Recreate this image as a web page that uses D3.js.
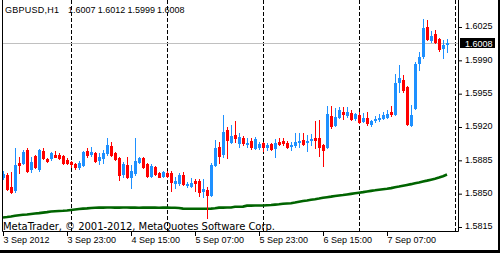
<html lang='en'>

<head>
    <title>GBPUSD,H1</title>
    <script src="https://d3js.org/d3.v7.min.js" charset="utf-8"></script>
    <style>
        body {
            margin: 0;
            background: #fff;
        }

        text {
            font-family: 'Liberation Sans', Arial, sans-serif;
            font-size: 9px;
        }
    </style>
</head>

<body>
    <script>
        // H1 bars from 3 Sep 2012 07:00 (index 0) to 7 Sep 22:00 (index 111)
        var open = [1.5868, 1.5870, 1.5857, 1.5854, 1.5882, 1.5882, 1.5896, 1.5876, 1.5890, 1.5876,
            1.5895, 1.5886, 1.5887, 1.5891, 1.5891, 1.5890, 1.5885, 1.5883, 1.5881, 1.5878,
            1.5880, 1.5895, 1.5892, 1.5893, 1.5885, 1.5887, 1.5893, 1.5900, 1.5893, 1.5887,
            1.5871, 1.5880, 1.5868, 1.5872, 1.5883, 1.5887, 1.5881, 1.5869, 1.5878, 1.5872,
            1.5869, 1.5872, 1.5872, 1.5861, 1.5861, 1.5870, 1.5859, 1.5858, 1.5863, 1.5863,
            1.5853, 1.5854, 1.5849, 1.5880, 1.5899, 1.5892, 1.5917, 1.5904, 1.5912, 1.5903,
            1.5908, 1.5902, 1.5905, 1.5898, 1.5899, 1.5903, 1.5899, 1.5902, 1.5898, 1.5904,
            1.5905, 1.5903, 1.5900, 1.5901, 1.5904, 1.5906, 1.5904, 1.5906, 1.5908, 1.5908,
            1.5901, 1.5899, 1.5932, 1.5922, 1.5931, 1.5936, 1.5933, 1.5935, 1.5929, 1.5933,
            1.5926, 1.5929, 1.5923, 1.5927, 1.5928, 1.5929, 1.5931, 1.5936, 1.5934, 1.5967,
            1.5969, 1.5962, 1.5922, 1.5940, 1.5987, 1.5995, 1.6025, 1.6011, 1.6018, 1.6012,
            1.6003, 1.6007];
        var high = [1.5874, 1.5872, 1.5873, 1.5898, 1.5889, 1.5896, 1.5898, 1.5889, 1.5891, 1.5897,
            1.5898, 1.5887, 1.5894, 1.5895, 1.5893, 1.5891, 1.5887, 1.5884, 1.5882, 1.5884,
            1.5895, 1.5898, 1.5899, 1.5894, 1.5893, 1.5896, 1.5908, 1.5904, 1.5894, 1.5889,
            1.5883, 1.5889, 1.5880, 1.5908, 1.5889, 1.5889, 1.5882, 1.5881, 1.5879, 1.5873,
            1.5874, 1.5874, 1.5874, 1.5868, 1.5872, 1.5873, 1.5862, 1.5866, 1.5865, 1.5865,
            1.5865, 1.5857, 1.5882, 1.5906, 1.5904, 1.5933, 1.5920, 1.5922, 1.5926, 1.5914,
            1.5911, 1.5908, 1.5908, 1.5910, 1.5904, 1.5904, 1.5903, 1.5903, 1.5907, 1.5908,
            1.5908, 1.5905, 1.5904, 1.5914, 1.5914, 1.5914, 1.5912, 1.5913, 1.5926, 1.5927,
            1.5902, 1.5942, 1.5942, 1.5940, 1.5941, 1.5941, 1.5941, 1.5938, 1.5935, 1.5936,
            1.5935, 1.5936, 1.5927, 1.5932, 1.5934, 1.5936, 1.5938, 1.5942, 1.5976, 1.5985,
            1.5975, 1.5963, 1.5943, 1.5988, 1.5999, 1.6033, 1.6032, 1.6021, 1.6022, 1.6013,
            1.6011, 1.6012];
        var low = [1.5865, 1.5854, 1.5851, 1.5852, 1.5872, 1.5881, 1.5873, 1.5873, 1.5877, 1.5874,
            1.5886, 1.5883, 1.5885, 1.5888, 1.5886, 1.5881, 1.5881, 1.5878, 1.5876, 1.5876,
            1.5879, 1.5889, 1.5890, 1.5883, 1.5881, 1.5882, 1.5891, 1.5890, 1.5885, 1.5864,
            1.5868, 1.5866, 1.5856, 1.5870, 1.5882, 1.5877, 1.5868, 1.5868, 1.5870, 1.5867,
            1.5868, 1.5867, 1.5853, 1.5856, 1.5859, 1.5859, 1.5857, 1.5857, 1.5853, 1.5848,
            1.5847, 1.5824, 1.5848, 1.5879, 1.5882, 1.5889, 1.5887, 1.5903, 1.5904, 1.5899,
            1.5901, 1.5899, 1.5897, 1.5897, 1.5897, 1.5895, 1.5896, 1.5896, 1.5889, 1.5901,
            1.5901, 1.5898, 1.5896, 1.5899, 1.5899, 1.5901, 1.5895, 1.5901, 1.5898, 1.5890,
            1.5879, 1.5898, 1.5919, 1.5921, 1.5929, 1.5928, 1.5931, 1.5927, 1.5927, 1.5924,
            1.5925, 1.5922, 1.5921, 1.5925, 1.5926, 1.5928, 1.5929, 1.5932, 1.5933, 1.5957,
            1.5957, 1.5922, 1.5921, 1.5939, 1.5980, 1.5992, 1.6011, 1.6009, 1.6008, 1.6000,
            1.5992, 1.5999];
        var close = [1.5871, 1.5855, 1.5852, 1.5880, 1.5880, 1.5894, 1.5874, 1.5883, 1.5878, 1.5896,
            1.5887, 1.5884, 1.5893, 1.5889, 1.5887, 1.5882, 1.5882, 1.5881, 1.5878, 1.5882,
            1.5894, 1.5891, 1.5894, 1.5884, 1.5889, 1.5893, 1.5901, 1.5891, 1.5886, 1.5870,
            1.5881, 1.5868, 1.5874, 1.5884, 1.5887, 1.5878, 1.5869, 1.5879, 1.5871, 1.5868,
            1.5873, 1.5869, 1.5862, 1.5863, 1.5870, 1.5860, 1.5860, 1.5861, 1.5861, 1.5852,
            1.5855, 1.5849, 1.5880, 1.5898, 1.5890, 1.5915, 1.5906, 1.5911, 1.5908, 1.5910,
            1.5903, 1.5903, 1.5899, 1.5907, 1.5902, 1.5899, 1.5901, 1.5897, 1.5903, 1.5902,
            1.5903, 1.5899, 1.5901, 1.5904, 1.5905, 1.5902, 1.5905, 1.5907, 1.5906, 1.5899,
            1.5896, 1.5934, 1.5921, 1.5931, 1.5938, 1.5934, 1.5936, 1.5928, 1.5934, 1.5925,
            1.5929, 1.5924, 1.5926, 1.5928, 1.5929, 1.5933, 1.5934, 1.5934, 1.5966, 1.5971,
            1.5959, 1.5923, 1.5933, 1.5986, 1.5994, 1.6024, 1.6012, 1.6016, 1.6009, 1.6002,
            1.6006, 1.6008];
        // moving average (green)
        var ma = [1.58250, 1.58255, 1.58261, 1.58268, 1.58274, 1.58278, 1.58282, 1.58287, 1.58292, 1.58296,
            1.58301, 1.58306, 1.58312, 1.58316, 1.58318, 1.58320, 1.58324, 1.58329, 1.58334, 1.58339,
            1.58343, 1.58346, 1.58350, 1.58352, 1.58353, 1.58353, 1.58354, 1.58354, 1.58353, 1.58353,
            1.58354, 1.58354, 1.58353, 1.58353, 1.58352, 1.58353, 1.58353, 1.58354, 1.58353, 1.58352,
            1.58353, 1.58353, 1.58352, 1.58352, 1.58350, 1.58343, 1.58342, 1.58342, 1.58342, 1.58341,
            1.58342, 1.58342, 1.58343, 1.58347, 1.58353, 1.58353, 1.58354, 1.58355, 1.58363, 1.58363,
            1.58364, 1.58374, 1.58374, 1.58375, 1.58375, 1.58376, 1.58379, 1.58381, 1.58385, 1.58389,
            1.58394, 1.58397, 1.58400, 1.58407, 1.58416, 1.58423, 1.58429, 1.58436, 1.58442, 1.58449,
            1.58457, 1.58463, 1.58469, 1.58476, 1.58481, 1.58486, 1.58492, 1.58498, 1.58504, 1.58510,
            1.58516, 1.58523, 1.58529, 1.58535, 1.58542, 1.58547, 1.58552, 1.58558, 1.58567, 1.58575,
            1.58584, 1.58592, 1.58600, 1.58610, 1.58618, 1.58628, 1.58637, 1.58647, 1.58657, 1.58669,
            1.58683, 1.58701];

        var priceTicks = [1.6025, 1.5990, 1.5955, 1.5920, 1.5885, 1.5850, 1.5815];
        var timeIdx = [0, 16, 32, 48, 64, 80, 96];
        var timeText = ['3 Sep 2012', '3 Sep 23:00', '4 Sep 15:00', '5 Sep 07:00', '5 Sep 23:00', '6 Sep 15:00', '7 Sep 07:00'];
        var daySep = [17, 41, 65, 89, 113];
        var symbol = 'GBPUSD,H1';
        var last = open.length - 1;

        // canvas
        var width = 500, height = 253;
        var left = 2, right = 458, bottom = 231;

        var svg = d3.select('body').append('svg')
            .attr('width', width).attr('height', height);

        var x = d3.scaleLinear().domain([0, 111]).range([3, 447]);
        var y = d3.scaleLinear().domain([1.5815, 1.6025]).range([227, 27]);

        svg.append('clipPath').attr('id', 'plot')
            .append('rect').attr('x', left + 1).attr('y', 0)
            .attr('width', right - left - 1).attr('height', bottom);

        var g = svg.append('g').attr('clip-path', 'url(#plot)');

        // day separators
        g.selectAll('line.sep').data(daySep).enter().append('line')
            .attr('class', 'sep')
            .attr('x1', d => Math.round(x(d)) + 0.5).attr('x2', d => Math.round(x(d)) + 0.5)
            .attr('y1', 0).attr('y2', bottom)
            .attr('stroke', '#000').attr('stroke-dasharray', '4,2');

        // bid line
        var py = Math.round(y(close[last])) + 0.5;
        g.append('line').attr('x1', left).attr('x2', right).attr('y1', py).attr('y2', py)
            .attr('stroke', '#c0c0c0');

        // moving average
        var line = d3.line().x((d, i) => x(i)).y(d => y(d));
        g.append('path').datum(ma).attr('d', line)
            .attr('fill', 'none').attr('stroke', '#006400').attr('stroke-width', 2.6);

        // candles
        var idx = d3.range(open.length);
        var colour = i => close[i] >= open[i] ? '#1e90ff' : '#ff0000';
        g.selectAll('rect.wick').data(idx).enter().append('rect')
            .attr('class', 'wick')
            .attr('x', i => Math.round(x(i)))
            .attr('y', i => Math.round(y(high[i])))
            .attr('width', 1)
            .attr('height', i => Math.round(y(low[i])) - Math.round(y(high[i])) + 1)
            .attr('fill', colour);
        g.selectAll('rect.body').data(idx).enter().append('rect')
            .attr('class', 'body')
            .attr('x', i => Math.round(x(i)) - 1)
            .attr('y', i => Math.round(y(Math.max(open[i], close[i]))))
            .attr('width', 3)
            .attr('height', i => Math.max(1, Math.round(y(Math.min(open[i], close[i]))) - Math.round(y(Math.max(open[i], close[i]))) + 1))
            .attr('fill', colour);

        // frame
        svg.append('path')
            .attr('d', 'M' + (left + 0.5) + ',0V' + (bottom + 0.5) + 'H' + (right + 0.5) + 'V0')
            .attr('fill', 'none').attr('stroke', '#000');

        // price axis
        var yAxis = svg.append('g').attr('transform', 'translate(' + right + ',0)')
            .call(d3.axisRight(y).tickValues(priceTicks).tickSize(4).tickPadding(3)
                .tickFormat(d3.format('.4f')));
        yAxis.select('.domain').remove();
        yAxis.selectAll('text').attr('dy', '0.22em');

        // time axis
        var xAxis = svg.append('g').attr('transform', 'translate(0,' + bottom + ')')
            .call(d3.axisBottom(x).tickValues(timeIdx).tickSize(5).tickPadding(1)
                .tickFormat((d, k) => timeText[k]));
        xAxis.select('.domain').remove();
        xAxis.selectAll('text').attr('text-anchor', 'start').attr('x', 0);

        svg.selectAll('.tick text').attr('font-family', null).attr('font-size', null).attr('fill', '#000');
        svg.selectAll('g').filter(function () { return this.hasAttribute('font-size'); })
            .attr('font-family', null).attr('font-size', null);

        // current price box
        svg.append('rect').attr('x', right + 2).attr('y', py - 5.5)
            .attr('width', 35).attr('height', 10).attr('fill', '#000');
        svg.append('text').attr('x', right + 7).attr('y', py + 3)
            .attr('fill', '#fff').text(d3.format('.4f')(close[last]));

        // header
        svg.append('text').attr('x', 5).attr('y', 13)
            .attr('textLength', 54).attr('lengthAdjust', 'spacing').text(symbol);
        var ohlc = [open[last], high[last], low[last], close[last]];
        svg.selectAll('text.ohlc').data(ohlc).enter().append('text')
            .attr('class', 'ohlc')
            .attr('x', (d, k) => 68 + k * 29.7).attr('y', 13)
            .text(d => d3.format('.4f')(d));

        // copyright
        svg.append('text').attr('x', 3).attr('y', 230)
            .style('font-family', "'DejaVu Sans', sans-serif").style('font-size', '10px')
            .attr('textLength', 272).attr('lengthAdjust', 'spacing')
            .text('MetaTrader, \u00a9 2001-2012, MetaQuotes Software Corp.');

        // window border
        svg.append('rect').attr('x', 0).attr('y', 250).attr('width', width).attr('height', 3).attr('fill', '#000');
        svg.append('rect').attr('x', 498).attr('y', 0).attr('width', 2).attr('height', height).attr('fill', '#000');
    </script>
</body>

</html>
